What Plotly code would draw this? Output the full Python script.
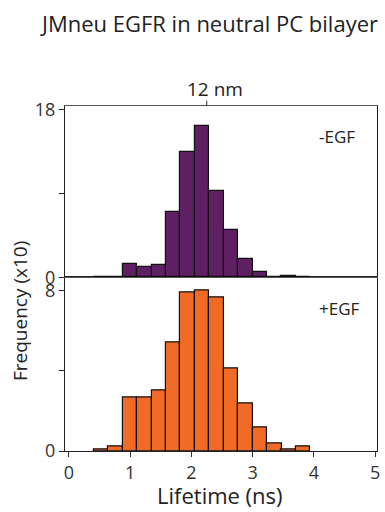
import plotly.graph_objects as go

bin_centers = [0.525, 0.76, 1.00, 1.235, 1.465, 1.70, 1.935, 2.17, 2.41, 2.645, 2.88, 3.12, 3.355, 3.585, 3.82]
bin_width = 0.235
minus_egf = [0, 0.1, 1.43, 1.14, 1.31, 7.0, 13.5, 16.3, 9.24, 5.1, 1.93, 0.56, 0, 0.16, 0]
plus_egf = [0.08, 0.22, 2.69, 2.69, 3.0, 5.39, 7.88, 7.98, 7.67, 4.1, 2.36, 1.18, 0.40, 0.1, 0.22]
x_ticks = [0, 1, 2, 3, 4, 5]

FONT = "Open Sans"
PURPLE = "#5F1F63"
ORANGE = "#F26B26"
TXT = "#222222"

fig = go.Figure()
fig.add_trace(go.Bar(x=bin_centers, y=minus_egf, width=bin_width, xaxis="x2", yaxis="y2",
                     marker=dict(color=PURPLE, line=dict(color="#111111", width=1.2)),
                     showlegend=False))
fig.add_trace(go.Bar(x=bin_centers, y=plus_egf, width=bin_width, xaxis="x", yaxis="y",
                     marker=dict(color=ORANGE, line=dict(color="#111111", width=1.2)),
                     showlegend=False))

xr = [-0.065, 5.03]
split = 0.503
fig.update_layout(
    width=385, height=512,
    margin=dict(l=65, r=8, t=106, b=61, autoexpand=False),
    plot_bgcolor="white", paper_bgcolor="white",
    font=dict(family=FONT, size=18, color="#333333"),
    bargap=0,
    xaxis=dict(domain=[0, 1], range=xr, tickvals=x_ticks, ticks="outside", ticklen=5,
               tickcolor="#333", showline=True, linecolor="#222", linewidth=1.2, mirror=True,
               showgrid=False, zeroline=False, tickfont=dict(size=18), automargin=False),
    yaxis=dict(domain=[0, split], range=[0, 8.65], tickvals=[0, 4, 8], ticktext=["0", "", "8"],
               ticks="outside", ticklen=5, tickcolor="#222", showline=True, linecolor="#222",
               linewidth=1.2, mirror=True, showgrid=False, zeroline=False, tickfont=dict(size=18),
               automargin=False),
    xaxis2=dict(domain=[0, 1], range=xr, anchor="y2", showticklabels=False, ticks="",
                showline=True, linecolor="#555", linewidth=1.2, mirror=True,
                showgrid=False, zeroline=False, automargin=False),
    yaxis2=dict(domain=[split, 1], range=[0, 18.4], tickvals=[0, 9, 18], ticktext=["0", "", "18"],
                ticks="outside", ticklen=5, tickcolor="#222", showline=True, linecolor="#222",
                linewidth=1.2, mirror=True, showgrid=False, zeroline=False, tickfont=dict(size=18),
                automargin=False),
    annotations=[
        dict(text="JMneu EGFR in neutral PC bilayer", xref="paper", yref="paper", x=0.46, y=1.24,
             xanchor="center", yanchor="middle", showarrow=False, font=dict(size=22, color=TXT)),
        dict(text="12 nm", xref="x2", yref="paper", x=2.39, y=1.049,
             xanchor="center", yanchor="middle", showarrow=False, font=dict(size=19, color=TXT)),
        dict(text="-EGF", xref="paper", yref="paper", x=0.872, y=0.913,
             xanchor="center", yanchor="middle", showarrow=False, font=dict(size=17, color=TXT)),
        dict(text="+EGF", xref="paper", yref="paper", x=0.881, y=0.414,
             xanchor="center", yanchor="middle", showarrow=False, font=dict(size=17, color=TXT)),
        dict(text="Lifetime (ns)", xref="paper", yref="paper", x=0.497, y=-0.127,
             xanchor="center", yanchor="middle", showarrow=False, font=dict(size=22, color=TXT)),
        dict(text="Frequency (x10)", xref="paper", yref="paper", x=-0.144, y=0.406,
             xanchor="center", yanchor="middle", textangle=-90, showarrow=False,
             font=dict(size=19, color=TXT)),
    ],
    shapes=[
        dict(type="line", xref="x2", yref="paper", x0=2.25, x1=2.25, y0=1.0, y1=1.015,
             line=dict(color="#333", width=1)),
    ],
)

fig.write_html("out.html", config={"displayModeBar": False},
               post_script="document.body.style.margin='0';document.body.style.overflow='hidden';")
